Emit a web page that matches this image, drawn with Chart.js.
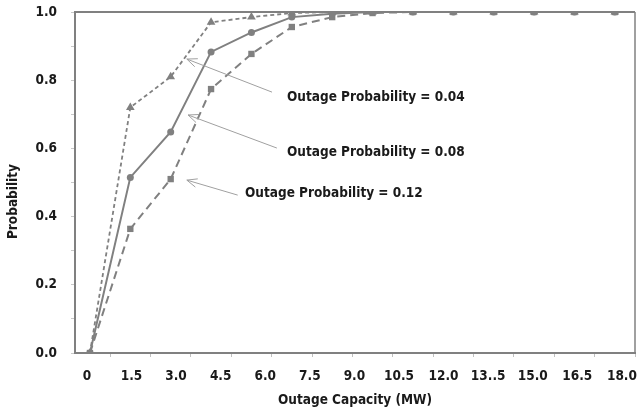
<!DOCTYPE html>
<html>
<head>
<meta charset="utf-8">
<script src="https://cdn.jsdelivr.net/npm/chart.js@4.4.0/dist/chart.umd.min.js"></script>
<style>
  html, body { margin: 0; padding: 0; background: #fff; }
  #wrap { width: 641px; height: 418px; }
</style>
</head>
<body>
<div id="wrap"><canvas id="chart"></canvas></div>
<script>
// Data points (one per capacity step, x = step index)
const capacities = ['0', '1.5', '3.0', '4.5', '6.0', '7.5', '9.0', '10.5', '12.0', '13.5', '15.0', '16.5', '18.0', '19.5'];
const prob004 = [0, 0.72, 0.81, 0.97, 0.985, 0.997, 1, 1, 1, 1, 1, 1, 1, 1];
const prob008 = [0, 0.515, 0.648, 0.883, 0.94, 0.985, 0.995, 1, 1, 1, 1, 1, 1, 1];
const prob012 = [0, 0.364, 0.51, 0.774, 0.877, 0.956, 0.985, 0.997, 1, 1, 1, 1, 1, 1];

// Bottom tick labels (as printed, typo included)
const tickValues = [0, 1.5, 3.0, 4.5, 6.0, 7.5, 9.0, 10.5, 12.0, 13.5, 15.0, 16.5, 18.0];
const tickLabels = ['0', '1.5', '3.0', '4.5', '6.0', '7.5', '9.0', '10.5', '12.0', '13..5', '15.0', '16.5', '18.0'];

// Annotations, in data units (x = step index, y = probability)
const noteLabels = ['Outage Probability = 0.04', 'Outage Probability = 0.08', 'Outage Probability = 0.12'];
const noteAnchors = [[4.88, 0.748], [4.88, 0.589], [3.84, 0.469]];
const arrowTails = [[4.51, 0.765], [4.63, 0.601], [3.66, 0.463]];
const arrowHeads = [[2.4, 0.862], [2.43, 0.698], [2.4, 0.507]];

const GREY = '#808080';
const FONT = "'Liberation Sans Narrow', 'DejaVu Sans Condensed', Roboto, sans-serif";

const toPoints = (values) => values.map((v, i) => ({ x: i, y: v }));

const notesPlugin = {
    id: 'notes',
    afterDatasetsDraw(chart) {
        const ctx = chart.ctx;
        const area = chart.chartArea;
        const x = chart.scales.x;
        const y = chart.scales.y;
        ctx.save();
        // frame top and right
        ctx.strokeStyle = GREY;
        ctx.lineWidth = 2;
        ctx.beginPath();
        ctx.moveTo(area.left, area.top);
        ctx.lineTo(area.right, area.top);
        ctx.stroke();
        ctx.lineWidth = 1.5;
        ctx.beginPath();
        ctx.moveTo(area.right, area.top);
        ctx.lineTo(area.right, area.bottom);
        ctx.stroke();

        // arrows
        ctx.strokeStyle = '#a0a0a0';
        ctx.lineWidth = 1;
        for (let i = 0; i < arrowTails.length; i++) {
            const tx = x.getPixelForValue(arrowTails[i][0]);
            const ty = y.getPixelForValue(arrowTails[i][1]);
            const hx = x.getPixelForValue(arrowHeads[i][0]);
            const hy = y.getPixelForValue(arrowHeads[i][1]);
            const ang = Math.atan2(ty - hy, tx - hx);
            ctx.beginPath();
            ctx.moveTo(tx, ty);
            ctx.lineTo(hx, hy);
            ctx.moveTo(hx + 11 * Math.cos(ang - 0.4), hy + 11 * Math.sin(ang - 0.4));
            ctx.lineTo(hx, hy);
            ctx.lineTo(hx + 11 * Math.cos(ang + 0.4), hy + 11 * Math.sin(ang + 0.4));
            ctx.stroke();
        }

        // labels
        ctx.fillStyle = '#1a1a1a';
        ctx.font = 'bold 13.5px ' + FONT;
        ctx.textAlign = 'left';
        ctx.textBaseline = 'middle';
        for (let i = 0; i < noteLabels.length; i++) {
            ctx.fillText(noteLabels[i],
                x.getPixelForValue(noteAnchors[i][0]),
                y.getPixelForValue(noteAnchors[i][1]));
        }
        ctx.restore();
    }
};

const series = (label, data, style, radius, dash, width) => ({
    label: label,
    data: toPoints(data),
    borderColor: GREY,
    backgroundColor: GREY,
    borderWidth: width,
    borderDash: dash,
    pointStyle: style,
    pointRadius: radius,
    pointBorderWidth: 0,
    tension: 0
});

new Chart(document.getElementById('chart'), {
    type: 'line',
    data: {
        datasets: [
            series('Outage Probability = 0.12', prob012, 'rect', 4.5, [8, 5], 2),
            series('Outage Probability = 0.08', prob008, 'circle', 3.5, [], 2),
            series('Outage Probability = 0.04', prob004, 'triangle', 5, [4, 3], 1.8)
        ]
    },
    options: {
        responsive: true,
        maintainAspectRatio: false,
        animation: false,
        layout: { padding: { left: 0, right: 6, top: 12, bottom: 0 } },
        plugins: {
            legend: { display: false },
            tooltip: { enabled: false }
        },
        scales: {
            x: {
                type: 'linear',
                min: -0.37,
                max: capacities.length - 0.5,
                afterBuildTicks: (axis) => { axis.ticks = capacities.map((c, i) => ({ value: i + 0.5 })); },
                ticks: { display: false },
                grid: { drawOnChartArea: false, tickLength: 4, color: '#c0c0c0' },
                border: { color: GREY, width: 2 },
                afterFit: (axis) => { axis.height = 0; axis.paddingLeft = 0; axis.paddingRight = 0; }
            },
            x2: {
                type: 'linear',
                position: 'bottom',
                min: -0.4,
                max: 18.44,
                afterBuildTicks: (axis) => { axis.ticks = tickValues.map(v => ({ value: v })); },
                ticks: {
                    autoSkip: false,
                    maxRotation: 0,
                    padding: 15,
                    color: '#1a1a1a',
                    font: { family: FONT, size: 13.5, weight: 'bold' },
                    callback: (value, index) => tickLabels[index]
                },
                grid: { display: false, drawTicks: false },
                border: { display: false },
                title: {
                    display: true,
                    text: 'Outage Capacity (MW)',
                    color: '#1a1a1a',
                    font: { family: FONT, size: 13.5, weight: 'bold' },
                    padding: { top: 0, bottom: 9 }
                },
                afterFit: (axis) => { axis.height = 65; axis.paddingLeft = 0; axis.paddingRight = 0; }
            },
            y: {
                min: 0,
                max: 1,
                ticks: {
                    stepSize: 0.1,
                    padding: 14,
                    color: '#1a1a1a',
                    font: { family: FONT, size: 13.5, weight: 'bold' },
                    callback: (value, index) => (index % 2 === 0 ? value.toFixed(1) : '')
                },
                grid: { drawOnChartArea: false, tickLength: 4, color: '#c8c8c8' },
                border: { color: GREY, width: 2 },
                title: {
                    display: true,
                    // trailing spaces push the rotated title a little lower, as in the original
                    text: 'Probability         ',
                    color: '#1a1a1a',
                    font: { family: FONT, size: 13.5, weight: 'bold' },
                    padding: { top: 5, bottom: 0 }
                },
                afterFit: (axis) => { axis.width = 75; axis.paddingTop = 0; axis.paddingBottom = 0; }
            }
        }
    },
    plugins: [notesPlugin]
});
</script>
</body>
</html>
